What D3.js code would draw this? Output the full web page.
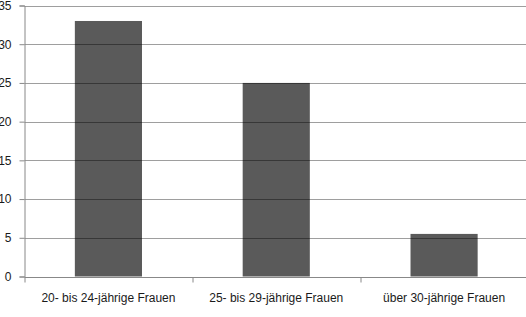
<!DOCTYPE html>
<html>
<head>
<meta charset="utf-8">
<script src="https://cdn.jsdelivr.net/npm/d3@7"></script>
<style>
  body { margin: 0; background: #fff; }
  svg text { font-family: "Liberation Sans", Arial, sans-serif; fill: #1a1a1a; }
</style>
</head>
<body>
<svg width="526" height="317"></svg>
<script>
var categories = ["20- bis 24-jährige Frauen", "25- bis 29-jährige Frauen", "über 30-jährige Frauen"];
var values = [33, 25, 5.5];
var yTicks = [0, 5, 10, 15, 20, 25, 30, 35];

var margin = {top: 5, right: -2, bottom: 40, left: 24.5};
var svg = d3.select("svg"),
    width = +svg.attr("width") - margin.left - margin.right,
    height = +svg.attr("height") - margin.top - margin.bottom;

var g = svg.append("g")
  .attr("transform", "translate(" + margin.left + "," + margin.top + ")");

var x = d3.scaleBand().domain(categories).range([0, width]).paddingInner(0.6).paddingOuter(0.3);
var xb = d3.scaleBand().domain(categories).range([0, width]);
var y = d3.scaleLinear().domain([0, 35]).range([height - 0.5, 0.5]);

// bars
g.selectAll(".bar")
  .data(values)
  .enter().append("rect")
  .attr("class", "bar")
  .attr("x", function(d, i) { return x(categories[i]); })
  .attr("y", function(d) { return y(d); })
  .attr("width", x.bandwidth())
  .attr("height", function(d) { return y(0) - y(d); })
  .attr("fill", "#5a5a5a");

// gridlines (drawn over the bars, like the reference)
g.selectAll(".grid")
  .data(yTicks.filter(function(t) { return t > 0; }))
  .enter().append("line")
  .attr("x1", 0).attr("x2", width)
  .attr("y1", function(d) { return Math.round(y(d)) + 0.5; })
  .attr("y2", function(d) { return Math.round(y(d)) + 0.5; })
  .attr("stroke", "rgba(0,0,0,0.38)")
  .attr("stroke-width", 1.2);

// y axis
var yAxis = d3.axisLeft(y).tickValues(yTicks).tickSize(5).tickPadding(8);
var ya = g.append("g").call(yAxis);
ya.select(".domain").attr("stroke", "#888");
ya.selectAll(".tick line").attr("stroke", "#888");
ya.selectAll("text").style("font-size", "12px").attr("fill", "#1a1a1a");

// x axis with ticks between categories
var xa = g.append("g").attr("transform", "translate(0," + (Math.round(y(0)) + 0.5) + ")");
xa.append("line").attr("x1", 0).attr("x2", width).attr("stroke", "#888");
xa.selectAll(".sep")
  .data(categories)
  .enter().append("line")
  .attr("x1", function(d) { return Math.round(xb(d)) + 0.5; })
  .attr("x2", function(d) { return Math.round(xb(d)) + 0.5; })
  .attr("y1", 0).attr("y2", 5)
  .attr("stroke", "#888");
xa.selectAll(".lbl")
  .data(categories)
  .enter().append("text")
  .attr("x", function(d) { return xb(d) + xb.bandwidth() / 2; })
  .attr("y", 24)
  .attr("text-anchor", "middle")
  .style("font-size", "12px")
  .text(function(d) { return d; });
</script>
</body>
</html>
